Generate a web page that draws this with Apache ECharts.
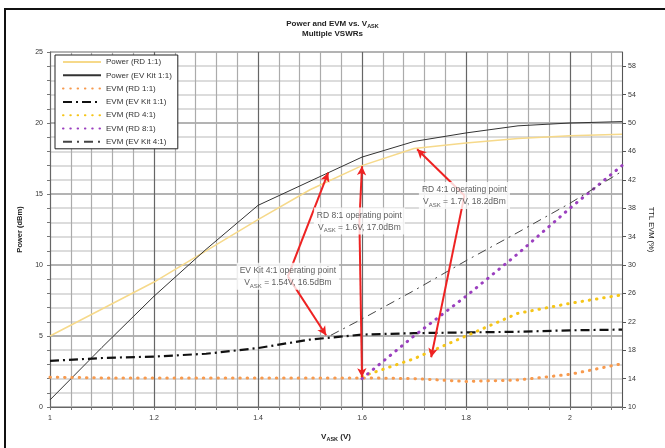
<!DOCTYPE html>
<html>
<head>
<meta charset="utf-8">
<script src="https://cdn.jsdelivr.net/npm/echarts@6/dist/echarts.min.js"></script>
<style>
  html, body { margin: 0; padding: 0; background: #fff; overflow: hidden; }
  #frame { position: absolute; left: 4px; top: 8px; width: 700px; height: 480px; border: 2px solid #111; box-sizing: border-box; }
  #chart { position: absolute; left: 0; top: 0; width: 665px; height: 448px; }
</style>
</head>
<body>
<div id="frame"></div>
<div id="chart"></div>
<script>
// ---- Data ----
const vSweep = [1.0, 1.1, 1.2, 1.3, 1.4, 1.5, 1.6, 1.7, 1.8, 1.9, 2.0, 2.1];
const powerRD11 = [5.0, 6.9, 8.8, 11.0, 13.2, 15.3, 17.0, 18.2, 18.6, 18.9, 19.1, 19.2];
const powerEV11 = [0.5, 4.2, 7.8, 11.1, 14.2, 15.9, 17.6, 18.7, 19.3, 19.8, 20.0, 20.1];
const evmRD11   = [14.2, 14.1, 14.1, 14.1, 14.1, 14.1, 14.1, 14.0, 13.6, 13.8, 14.6, 16.1];
const evmEV11   = [16.5, 16.9, 17.1, 17.5, 18.3, 19.5, 20.2, 20.4, 20.5, 20.6, 20.8, 20.9];
const vRD41     = [1.6, 1.7, 1.8, 1.9, 2.0, 2.1];
const evmRD41   = [14.3, 16.8, 20.0, 23.2, 24.6, 25.8];
const vRD81     = [1.6, 1.7, 1.8, 1.9, 2.0, 2.1];
const evmRD81   = [14.0, 20.0, 25.6, 31.6, 38.0, 44.0];
const vEV41     = [1.54, 1.6, 1.7, 1.8, 1.9, 2.0, 2.1];
const evmEV41   = [20.1, 22.4, 26.4, 30.6, 34.6, 38.7, 43.2];

const seriesNames = ['Power (RD 1:1)', 'Power (EV Kit 1:1)', 'EVM (RD 1:1)', 'EVM (EV Kit 1:1)',
                     'EVM (RD 4:1)', 'EVM (RD 8:1)', 'EVM (EV Kit 4:1)'];
const xTickLabels = ['1', '1.2', '1.4', '1.6', '1.8', '2'];
const leftTickLabels = [0, 5, 10, 15, 20, 25];
const rightTickLabels = [10, 14, 18, 22, 26, 30, 34, 38, 42, 46, 50, 54, 58];

// annotations: text, label anchor [V, dBm], arrow targets [V, dBm-scale]
const annotations = [
  { l1: 'EV Kit 4:1 operating point', v: '1.54V, 16.5dBm', at: [1.4575, 9.2],
    targets: [[1.535, 16.5], [1.531, 5.05]] },
  { l1: 'RD 8:1 operating point', v: '1.6V, 17.0dBm', at: [1.595, 13.1],
    targets: [[1.60, 16.95], [1.60, 2.1]] },
  { l1: 'RD 4:1 operating point', v: '1.7V, 18.2dBm', at: [1.797, 14.9],
    targets: [[1.706, 18.15], [1.733, 3.5]] }
];

const zip = (xs, ys) => xs.map((x, i) => [x, ys[i]]);
const FONT = '"Liberation Sans", Arial, sans-serif';
const dotStyle = (c) => ({ color: c, width: 3, type: [0.5, 6.8], cap: 'round' });

const chart = echarts.init(document.getElementById('chart'), null, { renderer: 'canvas' });

const fmtTick = (labels, tol) => (v) => {
  for (const l of labels) { if (Math.abs(parseFloat(l) - v) < tol) return String(l); }
  return '';
};

const arrowLines = [];
annotations.forEach(a => a.targets.forEach(t => arrowLines.push([{ coord: a.at }, { coord: t }])));

const option = {
  animation: false,
  textStyle: { fontFamily: FONT },
  title: {
    text: '{a|Power and EVM vs. V}{s|ASK}\n{a|Multiple VSWRs}',
    left: 'center', top: 14,
    textStyle: {
      rich: {
        a: { fontSize: 8, fontWeight: 'bold', color: '#222', lineHeight: 10, fontFamily: FONT },
        s: { fontSize: 5.5, fontWeight: 'bold', color: '#222', lineHeight: 10, verticalAlign: 'bottom', fontFamily: FONT }
      }
    }
  },
  legend: {
    orient: 'vertical', left: 55, top: 55,
    itemWidth: 38, itemHeight: 10, itemGap: 5.3,
    padding: [3, 6, 3, 7],
    borderColor: '#222', borderWidth: 1, backgroundColor: '#fff',
    itemStyle: { opacity: 0, borderWidth: 0 },
    textStyle: { fontSize: 8, color: '#333', fontFamily: FONT },
    data: seriesNames
  },
  grid: { left: 50, top: 52, right: 43, bottom: 41, containLabel: false },
  xAxis: {
    type: 'value', min: 1, max: 2.1, interval: 0.04,
    name: '{a|V}{s|ASK}{a| (V)}', nameLocation: 'middle', nameGap: 25,
    nameTextStyle: { rich: {
      a: { fontSize: 8, fontWeight: 'bold', color: '#222', fontFamily: FONT, lineHeight: 10 },
      s: { fontSize: 5.5, fontWeight: 'bold', color: '#222', fontFamily: FONT, lineHeight: 10, verticalAlign: 'bottom' } } },
    axisLine: { lineStyle: { color: '#666', width: 1 } },
    axisTick: { show: true, length: 3, lineStyle: { color: '#777' } },
    axisLabel: { fontSize: 7, color: '#333', margin: 8, formatter: fmtTick(xTickLabels, 1e-6) },
    splitLine: { show: true, lineStyle: { color: ['#666666', '#ababab', '#ababab', '#ababab', '#ababab'], width: 1.2 } }
  },
  yAxis: [
    {
      type: 'value', min: 0, max: 25, interval: 1,
      name: 'Power (dBm)', nameLocation: 'middle', nameGap: 26,
      nameTextStyle: { fontSize: 7.5, fontWeight: 'bold', color: '#222', fontFamily: FONT },
      axisLine: { show: true, lineStyle: { color: '#666' } },
      axisTick: { show: true, length: 3, lineStyle: { color: '#777' } },
      axisLabel: { fontSize: 7, color: '#333', margin: 7, formatter: fmtTick(leftTickLabels, 1e-6) },
      splitLine: { show: true, lineStyle: { color: ['#9a9a9a', '#d0d0d0', '#d0d0d0', '#d0d0d0', '#d0d0d0'], width: 1.5 } }
    },
    {
      type: 'value', min: 10, max: 60, position: 'right',
      name: 'TTL EVM (%)', nameLocation: 'middle', nameGap: 24, nameRotate: -90,
      nameTextStyle: { fontSize: 7.5, color: '#222', fontFamily: FONT },
      axisLine: { show: true, lineStyle: { color: '#555' } },
      axisTick: { show: true, length: 4, lineStyle: { color: '#555' }, customValues: rightTickLabels },
      axisLabel: { fontSize: 7, color: '#333', margin: 6, customValues: rightTickLabels },
      splitLine: { show: false }
    }
  ],
  series: [
    { name: seriesNames[0], type: 'line', yAxisIndex: 0, symbol: 'none', z: 3,
      data: zip(vSweep, powerRD11), lineStyle: { color: '#f6d98a', width: 1.5 }, itemStyle: { color: '#f6d98a' } },
    { name: seriesNames[1], type: 'line', yAxisIndex: 0, symbol: 'none', z: 3,
      data: zip(vSweep, powerEV11), lineStyle: { color: '#333', width: 1 }, itemStyle: { color: '#333' } },
    { name: seriesNames[2], type: 'line', yAxisIndex: 1, symbol: 'none', z: 3,
      data: zip(vSweep, evmRD11), lineStyle: dotStyle('#f79a4e'), itemStyle: { color: '#f79a4e' } },
    { name: seriesNames[3], type: 'line', yAxisIndex: 1, symbol: 'none', z: 3,
      data: zip(vSweep, evmEV11), lineStyle: { color: '#111', width: 2.2, type: [9, 4, 2, 4] }, itemStyle: { color: '#111' } },
    { name: seriesNames[4], type: 'line', yAxisIndex: 1, symbol: 'none', z: 3,
      data: zip(vRD41, evmRD41), lineStyle: dotStyle('#f5c518'), itemStyle: { color: '#f5c518' } },
    { name: seriesNames[5], type: 'line', yAxisIndex: 1, symbol: 'none', z: 3,
      data: zip(vRD81, evmRD81), lineStyle: dotStyle('#9b3fbf'), itemStyle: { color: '#9b3fbf' } },
    { name: seriesNames[6], type: 'line', yAxisIndex: 1, symbol: 'none', z: 3,
      data: zip(vEV41, evmEV41), lineStyle: { color: '#444', width: 1, type: [9, 5, 2, 5] }, itemStyle: { color: '#444' } },
    // annotation arrows
    { name: 'arrows', type: 'line', yAxisIndex: 0, data: [], z: 6, silent: true,
      markLine: {
        silent: true, symbol: ['none', 'arrow'], symbolSize: [7, 9],
        label: { show: false },
        lineStyle: { color: '#ee2222', width: 2, type: 'solid' },
        data: arrowLines
      } },
    // annotation text boxes
    { name: 'notes', type: 'scatter', yAxisIndex: 0, z: 8, silent: true, symbolSize: 0,
      data: annotations.map(a => ({ value: a.at, l1: a.l1, v: a.v })),
      label: {
        show: true, position: 'inside',
        formatter: (p) => '{t|' + p.data.l1 + '}\n{t|V}{s|ASK}{t| = ' + p.data.v + '}',
        backgroundColor: '#fff', padding: [2, 3, 1, 3], align: 'center', verticalAlign: 'middle',
        rich: {
          t: { fontSize: 8.5, color: '#333', lineHeight: 12, fontFamily: FONT },
          s: { fontSize: 6, color: '#333', lineHeight: 12, verticalAlign: 'bottom', fontFamily: FONT }
        }
      } }
  ]
};
chart.setOption(option);
</script>
</body>
</html>
